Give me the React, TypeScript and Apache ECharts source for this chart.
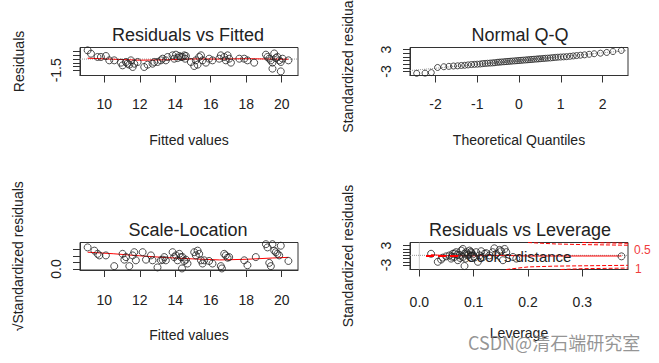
import React, { useEffect, useRef } from "react";
import * as echarts from "echarts";

// ---------- Panel 1: Residuals vs Fitted ----------
const rvfFitted = [9.06,9.25,9.62,9.81,10.09,10.28,10.56,10.94,11.03,11.22,11.31,11.41,11.50,11.60,11.69,11.88,12.25,12.44,12.72,12.82,13.00,13.19,13.29,13.47,13.57,13.85,13.94,14.04,14.13,14.23,14.32,14.41,14.51,14.56,14.60,14.88,15.07,15.16,15.26,15.35,15.45,15.54,15.73,15.91,16.10,16.48,16.57,16.76,16.85,16.95,17.04,17.14,17.61,17.89,18.07,18.45,19.11,19.20,19.30,19.39,19.48,19.48,19.58,19.67,19.76,19.86,19.95,20.05,19.95,20.38];
const rvfResid = [1.17,0.72,0.28,0.28,0.41,-0.17,-0.17,-0.48,-0.84,-0.39,-0.62,-0.75,-0.17,-1.06,-0.62,-0.39,-1.06,-0.75,-0.62,-0.39,-0.39,-0.17,0.05,-0.17,0.28,0.50,0.05,0.59,0.14,0.41,0.28,0.28,0.50,0.05,0.41,-0.39,-0.93,-0.17,-0.75,0.28,0.50,-0.17,-0.48,0.05,-0.17,0.05,0.50,0.28,-0.17,0.50,0.05,-0.48,0.05,0.05,-0.17,-0.48,0.59,0.28,0.05,-0.17,-0.48,-1.28,0.75,0.14,0.28,-0.17,-0.39,0.05,-1.65,-0.17];
const rvfSmoothX = [9.06,10.5,12,13.5,15,16.5,18,19.5,20.38];
const rvfSmoothY = [0.12,-0.02,-0.15,-0.1,0.02,0.0,0.05,0.0,-0.02];
const rvfIdNames = ["75","68"];
const rvfIdX = [19.58,19.95];
const rvfIdY = [0.75,-1.65];
const fittedTicks = [10,12,14,16,18,20];
const rvfYTicks = [-1.5,-1,-0.5,0,0.5,1];
const rvfYLabels = [-1.5];

// ---------- Panel 2: Normal Q-Q ----------
const qqTheo = [-2.45,-2.25,-2.1,-1.95,-1.8,-1.68,-1.57,-1.47,-1.38,-1.3,-1.22,-1.14,-1.07,-1.0,-0.93,-0.87,-0.81,-0.75,-0.69,-0.63,-0.58,-0.52,-0.47,-0.42,-0.36,-0.31,-0.26,-0.21,-0.16,-0.1,-0.05,0.0,0.05,0.1,0.16,0.21,0.26,0.31,0.36,0.42,0.47,0.52,0.58,0.63,0.69,0.75,0.81,0.87,0.93,1.0,1.07,1.14,1.22,1.3,1.38,1.47,1.57,1.68,1.8,1.95,2.1,2.25,2.45];
const qqSample = [-3.5,-3.45,-3.3,-1.9,-1.7,-1.6,-1.5,-1.45,-1.35,-1.3,-1.2,-1.1,-1.05,-1.0,-0.95,-0.85,-0.8,-0.75,-0.7,-0.65,-0.6,-0.5,-0.45,-0.4,-0.35,-0.3,-0.25,-0.2,-0.15,-0.1,-0.05,0.0,0.05,0.1,0.15,0.2,0.25,0.3,0.35,0.4,0.45,0.5,0.55,0.6,0.65,0.7,0.78,0.85,0.9,0.95,1.0,1.05,1.15,1.25,1.35,1.45,1.55,1.7,1.85,2.0,2.2,2.45,2.75];
const qqLineX = [-2.61,2.61];
const qqLineY = [-2.75,2.75];
const qqIdNames = ["68","10"];
const qqIdX = [-2.45,2.45];
const qqIdY = [-3.5,2.75];
const qqXTicks = [-2,-1,0,1,2];
const stdTicks = [-3,-2,-1,0,1,2,3];
const stdLabels = [-3,3];

// ---------- Panel 3: Scale-Location ----------
const slFitted = [9.06,9.44,9.62,9.72,10.09,10.56,11.03,11.13,11.22,11.41,11.60,11.69,11.78,12.16,12.35,12.63,12.72,13.00,13.19,13.29,13.38,13.47,13.85,13.94,14.04,14.13,14.23,14.32,14.41,14.38,14.51,14.60,14.69,15.07,15.16,15.26,15.35,15.45,15.54,15.63,15.91,16.10,16.57,16.63,16.76,16.85,16.95,17.04,17.89,18.07,18.54,19.11,19.20,19.30,19.39,19.48,19.58,19.67,19.76,19.86,19.95,20.38];
const slValue = [1.67,1.42,1.17,1.05,1.05,0.22,1.17,0.72,0.92,0.22,1.05,1.30,0.67,1.30,0.72,1.05,0.67,0.12,0.67,0.72,0.92,0.67,1.30,0.92,1.05,0.67,1.17,0.92,0.92,0.04,0.62,0.72,0.42,1.30,1.05,1.42,1.17,0.67,0.42,0.67,0.62,0.42,0.22,0.04,1.17,1.05,0.87,0.92,0.67,0.29,0.92,1.92,1.67,0.47,0.22,1.92,1.42,1.30,1.17,1.05,1.80,0.62];
const slSmoothX = [9.06,10.5,12,13.5,15,16.5,18,19.5,20.38];
const slSmoothY = [1.3,1.18,1.02,0.88,0.78,0.70,0.75,0.85,0.9];
const slIdNames = ["75","68"];
const slIdX = [19.20,19.95];
const slIdY = [1.67,1.80];
const slYTicks = [0,0.5,1,1.5];
const slYLabels = [0];

// ---------- Panel 4: Residuals vs Leverage ----------
const levH = [0.0216,0.0339,0.040,0.0431,0.0493,0.0554,0.0585,0.0616,0.0646,0.0677,0.0708,0.0739,0.077,0.080,0.080,0.0831,0.0862,0.0892,0.0923,0.0954,0.0985,0.1015,0.1046,0.1077,0.1108,0.1138,0.1169,0.12,0.123,0.129,0.135,0.138,0.1415,0.1477,0.1507,0.1538,0.157,0.16,0.1723,0.1784,0.372,0.0831,0.07,0.075,0.09,0.1,0.065,0.085,0.06,0.095];
const levStd = [0.49,-2.01,-1.31,-0.71,-0.31,-0.01,-1.01,0.49,-0.51,0.99,-1.51,-0.01,1.49,1.99,-0.51,0.49,0.99,-0.01,1.49,0.69,0.29,-0.71,0.99,-2.01,-0.01,1.29,-0.51,0.49,0.69,-0.01,0.99,2.19,0.49,1.69,1.29,-1.51,1.99,0.99,-0.51,-1.01,-0.31,-3.31,0.2,-0.8,0.3,-0.3,0.6,-1.0,-0.4,1.1];
const levSmoothX = [0.0216,0.05,0.1,0.15,0.2,0.3,0.372];
const levSmoothY = [0.2,-0.1,-0.15,0.0,-0.2,-0.2,-0.2];
const cookUp05X = [0.2,0.25,0.3,0.384];
const cookUp05Y = [4.0,3.55,3.35,3.15];
const cookUp1X = [0.3,0.384];
const cookUp1Y = [4.0,3.75];
const cookLo05X = [0.16,0.2,0.25,0.3,0.384];
const cookLo05Y = [-4.4,-3.6,-3.35,-3.25,-3.1];
const cookLo1X = [0.26,0.3,0.384];
const cookLo1Y = [-4.4,-4.15,-3.95];
const levIdNames = ["68","58"];
const levIdX = [0.0831,0.138];
const levIdY = [-3.31,2.19];
const levXTicks = [0,0.1,0.2,0.3];

const FONT = "'Liberation Sans', Arial, Helvetica, sans-serif";
const TXT = "#222";
const RED = "#ff0000";

const zip = (a: number[], b: number[]) => a.map((v, i) => [v, b[i]]);
const ids = (n: string[], x: number[], y: number[]) => n.map((s, i) => ({ name: s, value: [x[i], y[i]] }));

function xAx(gi: number, min: number, max: number, ticks: number[], margin: number, name: string, gap: number, fmt?: (v: number) => string) {
  return {
    type: "value", gridIndex: gi, min, max, position: "bottom",
    name, nameLocation: "middle", nameGap: gap,
    nameTextStyle: { fontSize: 14, color: TXT, fontFamily: FONT },
    axisLine: { show: true, onZero: false, lineStyle: { color: "#333", width: 1 } },
    axisTick: { show: true, length: 7, inside: false, customValues: ticks, lineStyle: { color: "#333" } },
    axisLabel: { show: true, margin, customValues: ticks, fontSize: 14, color: TXT, fontFamily: FONT, formatter: fmt ? fmt : (v: number) => String(v) },
    splitLine: { show: false },
  };
}
function yAx(gi: number, min: number, max: number, ticks: number[], labels: number[], name: string, gap: number, fmt: (v: number) => string) {
  return {
    type: "value", gridIndex: gi, min, max, position: "left",
    name, nameLocation: "middle", nameGap: gap,
    nameTextStyle: { fontSize: 14, color: TXT, fontFamily: FONT },
    axisLine: { show: true, onZero: false, lineStyle: { color: "#333", width: 1 } },
    axisTick: { show: true, length: 7, inside: false, customValues: ticks, lineStyle: { color: "#333" } },
    axisLabel: { show: true, rotate: 90, margin: 17, customValues: labels, fontSize: 14, color: TXT, fontFamily: FONT, formatter: fmt },
    splitLine: { show: false },
  };
}

const pointStyle = { color: "rgba(0,0,0,0)", borderColor: "#222", borderWidth: 1 };
function pts(gi: number, data: number[][], size: number) {
  return { type: "scatter", xAxisIndex: gi, yAxisIndex: gi, data, symbol: "circle", symbolSize: size, itemStyle: pointStyle, silent: true, z: 3 };
}
function lne(gi: number, data: number[][], color: string, type: string, name?: string) {
  return { type: "line", name, xAxisIndex: gi, yAxisIndex: gi, data, symbol: "none", smooth: false, lineStyle: { color, width: 1, type }, itemStyle: { color }, silent: true, z: 2, clip: true };
}
function idSeries(gi: number, data: any[], pos: any[]) {
  return {
    type: "scatter", xAxisIndex: gi, yAxisIndex: gi, symbolSize: 1, itemStyle: { opacity: 0 }, silent: true, z: 4,
    data: data.map((d, i) => ({ ...d, label: { show: true, formatter: "{b}", position: pos[i].p, offset: pos[i].o, distance: 3, fontSize: 10, color: "#333", fontFamily: FONT } })),
  };
}
const titleText = (x: number, y: number, text: string) => ({
  type: "text", x, y, silent: true,
  style: { text, fontSize: 18, fontFamily: FONT, fill: "#222", align: "center", verticalAlign: "middle", textAlign: "center", textVerticalAlign: "middle" },
});

export default function App() {
  const ref = useRef<HTMLDivElement>(null);
  useEffect(() => {
    if (!ref.current) return;
    const chart = echarts.init(ref.current, undefined, { renderer: "svg" });
    const gridBase = { show: true, borderColor: "#333", borderWidth: 1, backgroundColor: "transparent", containLabel: false, outerBoundsMode: "none" };
    const option: any = {
      animation: false,
      backgroundColor: "#fff",
      textStyle: { fontFamily: FONT },
      grid: [
        { ...gridBase, left: 80, top: 47.5, width: 218, height: 28 },
        { ...gridBase, left: 410, top: 47.5, width: 218, height: 28 },
        { ...gridBase, left: 80, top: 242.5, width: 218, height: 27.5 },
        { ...gridBase, left: 410, top: 242.5, width: 218, height: 27 },
      ],
      xAxis: [
        xAx(0, 8.63, 20.92, fittedTicks, 21, "Fitted values", 57),
        xAx(1, -2.61, 2.61, qqXTicks, 21, "Theoretical Quantiles", 57),
        xAx(2, 8.63, 20.92, fittedTicks, 23, "Fitted values", 58),
        xAx(3, -0.0172, 0.384, levXTicks, 25, "Leverage", 56, (v: number) => v.toFixed(1)),
      ],
      yAxis: [
        yAx(0, -2.2, 1.55, rvfYTicks, rvfYLabels, "Residuals", 54, (v: number) => v.toFixed(1)),
        yAx(1, -4.09, 3.55, stdTicks, stdLabels, "Standardized residuals", 55, (v: number) => String(v)),
        yAx(2, -0.08, 2.05, slYTicks, slYLabels, "\u221AStandardized residuals", 55, (v: number) => v.toFixed(1)),
        yAx(3, -4.4, 4.0, stdTicks, stdLabels, "Standardized residuals", 55, (v: number) => String(v)),
      ],
      legend: {
        data: ["Cook's distance"], left: 425, top: 248.5, itemWidth: 35, itemHeight: 14, itemGap: 5,
        itemStyle: { opacity: 0 },
        selectedMode: false, textStyle: { fontSize: 15, color: TXT, fontFamily: FONT, padding: [0, 0, 0, 0] }, padding: 0,
      },
      series: [
        // panel 1
        lne(0, [[8.63, 0], [20.92, 0]], "#999", "dotted"),
        pts(0, zip(rvfFitted, rvfResid), 7),
        lne(0, zip(rvfSmoothX, rvfSmoothY), RED, "solid"),
        idSeries(0, ids(rvfIdNames, rvfIdX, rvfIdY), [{ p: "left", o: [0, 0] }, { p: "left", o: [0, 5] }]),
        // panel 2
        lne(1, zip(qqLineX, qqLineY), "#999", "dotted"),
        pts(1, zip(qqTheo, qqSample), 6),
        idSeries(1, ids(qqIdNames, qqIdX, qqIdY), [{ p: "right", o: [0, 0] }, { p: "inside", o: [0, 0] }]),
        // panel 3
        pts(2, zip(slFitted, slValue), 7),
        lne(2, zip(slSmoothX, slSmoothY), RED, "solid"),
        idSeries(2, ids(slIdNames, slIdX, slIdY), [{ p: "left", o: [0, 0] }, { p: "left", o: [0, 0] }]),
        // panel 4
        lne(3, [[-0.0172, 0], [0.384, 0]], "#999", "dotted"),
        lne(3, [[0, -4.4], [0, 4.0]], "#999", "dotted"),
        pts(3, zip(levH, levStd), 7),
        lne(3, zip(levSmoothX, levSmoothY), RED, "solid"),
        lne(3, zip(cookUp05X, cookUp05Y), RED, "dashed", "Cook's distance"),
        lne(3, zip(cookUp1X, cookUp1Y), RED, "dashed"),
        lne(3, zip(cookLo05X, cookLo05Y), RED, "dashed"),
        lne(3, zip(cookLo1X, cookLo1Y), RED, "dashed"),
        idSeries(3, ids(levIdNames, levIdX, levIdY), [{ p: "right", o: [0, 5] }, { p: "right", o: [0, 0] }]),
      ],
      graphic: [
        titleText(188, 34.5, "Residuals vs Fitted"),
        titleText(520, 34.5, "Normal Q-Q"),
        titleText(188, 230, "Scale-Location"),
        titleText(520, 230, "Residuals vs Leverage"),
        { type: "text", x: 634, y: 250, silent: true, style: { text: "0.5", fontSize: 12, fontFamily: FONT, fill: "#f03c3c", align: "left", verticalAlign: "middle", textVerticalAlign: "middle" } },
        { type: "text", x: 635, y: 268.5, silent: true, style: { text: "1", fontSize: 12, fontFamily: FONT, fill: "#f03c3c", align: "left", verticalAlign: "middle", textVerticalAlign: "middle" } },
        { type: "text", x: 468, y: 342, silent: true, z: 100, style: { text: "CSDN@清石端研究室", fontSize: 18, fontFamily: "'Noto Sans CJK SC', " + FONT, fill: "rgba(130,130,130,0.85)", align: "left", verticalAlign: "middle", textVerticalAlign: "middle" } },
      ],
    };
    chart.setOption(option);
    return () => chart.dispose();
  }, []);
  return <div ref={ref} style={{ position: "fixed", left: 0, top: 0, width: 659, height: 363, background: "#fff" }} />;
}
